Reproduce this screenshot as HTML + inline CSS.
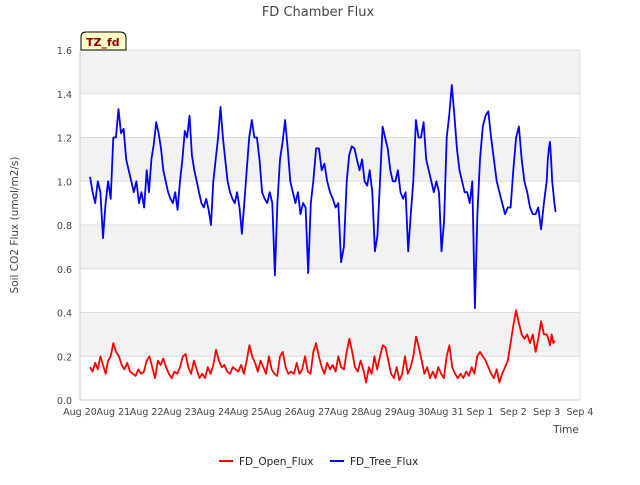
<!DOCTYPE html>
<html><head><meta charset="utf-8"><style>
body{margin:0;background:#fff;font-family:"Liberation Sans","DejaVu Sans",sans-serif;}
svg text{font-family:"DejaVu Sans","Liberation Sans",sans-serif;}
</style></head><body>
<svg id="chart" width="640" height="480" xmlns="http://www.w3.org/2000/svg">
<text x="318" y="16" text-anchor="middle" font-size="13" fill="#444">FD Chamber Flux</text>
<g id="bands"></g>
<g id="ticks"></g>
<g id="series"></g>
<text x="18" y="225" transform="rotate(-90 18 225)" text-anchor="middle" font-size="10.5" fill="#444">Soil CO2 Flux (umol/m2/s)</text>
<text x="566" y="433" text-anchor="middle" font-size="10.5" fill="#444">Time</text>
<g>
<path d="M81,50 L81,37 Q81,32 86,32 L120,32 Q126,32 126,38 L126,50 Z" fill="#ffffc8" stroke="#000" stroke-width="1"/>
<text x="86" y="46" font-size="11" font-weight="bold" fill="#8b0000">TZ_fd</text>
</g>
<g>
<g><line x1="219" y1="461" x2="233" y2="461" stroke="#f00" stroke-width="2"/><text x="239" y="465" font-size="10.5" fill="#222">FD_Open_Flux</text></g>
<g><line x1="330" y1="461" x2="344" y2="461" stroke="#00f" stroke-width="2"/><text x="350" y="465" font-size="10.5" fill="#222">FD_Tree_Flux</text></g>
</g>
</svg>
<script>
const xTickLabels=["Aug 20","Aug 21","Aug 22","Aug 23","Aug 24","Aug 25","Aug 26","Aug 27","Aug 28","Aug 29","Aug 30","Aug 31","Sep 1","Sep 2","Sep 3","Sep 4"];
const yTicks=[0.0,0.2,0.4,0.6,0.8,1.0,1.2,1.4,1.6];
const seriesStart=0.3, seriesEnd=14.3;
const treeFlux=[
[1.02,0.95,0.9,1.0,0.95,0.74,0.9,1.0,0.92],
[1.2,1.2,1.33,1.22,1.24,1.1,1.05,1.0,0.95,1.0,0.9,0.95,0.88],
[1.05,0.95,1.1,1.17,1.27,1.22,1.15,1.05,1.0,0.95,0.92,0.9,0.95,0.87],
[1.0,1.1,1.23,1.2,1.3,1.12,1.05,1.0,0.95,0.9,0.88,0.92,0.87,0.8],
[1.0,1.1,1.2,1.34,1.2,1.1,1.0,0.95,0.92,0.9,0.95,0.88,0.76,0.9],
[1.05,1.2,1.28,1.2,1.2,1.1,0.95,0.92,0.9,0.95,0.9,0.57,0.9],
[1.1,1.18,1.28,1.15,1.0,0.95,0.9,0.95,0.85,0.9,0.88,0.58,0.9],
[1.0,1.15,1.15,1.05,1.08,1.0,0.95,0.92,0.88,0.9,0.63,0.7],
[1.0,1.12,1.16,1.15,1.1,1.05,1.1,1.0,0.98,1.05,0.95,0.68,0.75],
[1.0,1.25,1.2,1.15,1.05,1.0,1.0,1.05,0.95,0.92,0.95,0.68,0.85],
[1.0,1.28,1.2,1.2,1.27,1.1,1.05,1.0,0.95,1.0,0.95,0.68,0.82],
[1.2,1.3,1.44,1.3,1.15,1.05,1.0,0.95,0.95,0.9,1.0,0.42,0.85],
[1.1,1.25,1.3,1.32,1.2,1.1,1.0,0.95,0.9,0.85,0.88,0.88],
[1.05,1.2,1.25,1.1,1.0,0.95,0.88,0.85,0.85,0.88,0.78,0.9],
[1.0,1.1,1.15,1.18,1.1,1.0,0.95,0.9,0.86]];
const openFlux=[
[0.15,0.13,0.17,0.14,0.2,0.16,0.12,0.18,0.2],
[0.26,0.22,0.2,0.16,0.14,0.17,0.13,0.12,0.11,0.14,0.12,0.13],
[0.18,0.2,0.15,0.1,0.18,0.16,0.19,0.15,0.12,0.1,0.13,0.12],
[0.15,0.2,0.21,0.15,0.12,0.18,0.14,0.1,0.12,0.1,0.15,0.12],
[0.16,0.23,0.18,0.15,0.16,0.13,0.12,0.15,0.14,0.13,0.16,0.12],
[0.18,0.25,0.2,0.17,0.13,0.18,0.15,0.12,0.2,0.14,0.12,0.11],
[0.2,0.22,0.15,0.12,0.13,0.12,0.17,0.12,0.14,0.2,0.13,0.12],
[0.22,0.26,0.2,0.15,0.12,0.17,0.14,0.16,0.13,0.2,0.15,0.14],
[0.22,0.28,0.22,0.15,0.13,0.18,0.14,0.08,0.15,0.12,0.2,0.14],
[0.2,0.25,0.24,0.18,0.12,0.1,0.15,0.09,0.12,0.2,0.12,0.15],
[0.2,0.29,0.24,0.18,0.12,0.15,0.1,0.13,0.1,0.15,0.12,0.1],
[0.2,0.25,0.15,0.12,0.1,0.12,0.1,0.13,0.11,0.15,0.12,0.2],
[0.22,0.2,0.18,0.15,0.12,0.1,0.14,0.08,0.12,0.15,0.18,0.26],
[0.34,0.41,0.35,0.3,0.28,0.3,0.26,0.3,0.22,0.28,0.36,0.3],
[0.3,0.28,0.25,0.3,0.26,0.27]];
const X0=80,X1=580,Y0=400,Y1=50,NS="http://www.w3.org/2000/svg";
function xs(d){return X0+d/15*(X1-X0);}
function ys(v){return Y0-v/1.6*(Y0-Y1);}
const svg=document.getElementById('chart');
const bands=document.getElementById('bands'),ticks=document.getElementById('ticks'),ser=document.getElementById('series');
function mk(tag,attrs,parent){const e=document.createElementNS(NS,tag);for(const k in attrs)e.setAttribute(k,attrs[k]);parent.appendChild(e);return e;}
for(let i=0;i<yTicks.length-1;i++){
 if(i%2===1){const r=mk('rect',{x:X0,y:ys(yTicks[i+1]),width:X1-X0,height:ys(yTicks[i])-ys(yTicks[i+1]),fill:'#f2f2f2'},bands);
 
 }
}
yTicks.forEach(v=>{
 const l=mk('line',{x1:X0,x2:X1,y1:ys(v),y2:ys(v),stroke:'#dcdcdc','stroke-width':1},bands);
 
 
 const t=mk('text',{x:X0-8,y:ys(v)+4,'text-anchor':'end','font-size':9.5,fill:'#444'},ticks);
 t.textContent=v.toFixed(1);
 
 
});
mk('line',{x1:X0,x2:X0,y1:Y1,y2:Y0,stroke:'#ccc'},bands);
mk('line',{x1:X1,x2:X1,y1:Y1,y2:Y0,stroke:'#ddd'},bands);
mk('line',{x1:X0,x2:X1,y1:Y0,y2:Y0,stroke:'#ccc'},bands);
xTickLabels.forEach((s,i)=>{
 const t=mk('text',{x:xs(i),y:Y0+15,'text-anchor':'middle','font-size':9.5,fill:'#444'},ticks);
 t.textContent=s;
 
 
});
function pts(days){
 const out=[];const n=days.length;
 days.forEach((arr,di)=>{
  const a=di===0?seriesStart:di, b=di===n-1?seriesEnd:di+1;
  arr.forEach((v,j)=>{const d=a+(b-a)*j/arr.length;out.push(xs(d).toFixed(1)+','+ys(v).toFixed(1));});
 });
 return out.join(' ');
}
const p1=mk('polyline',{points:pts(openFlux),fill:'none',stroke:'#f00','stroke-width':1.8,'stroke-linejoin':'round'},ser);


const p2=mk('polyline',{points:pts(treeFlux),fill:'none',stroke:'#00f','stroke-width':1.8,'stroke-linejoin':'round'},ser);


</script>
</body></html>
